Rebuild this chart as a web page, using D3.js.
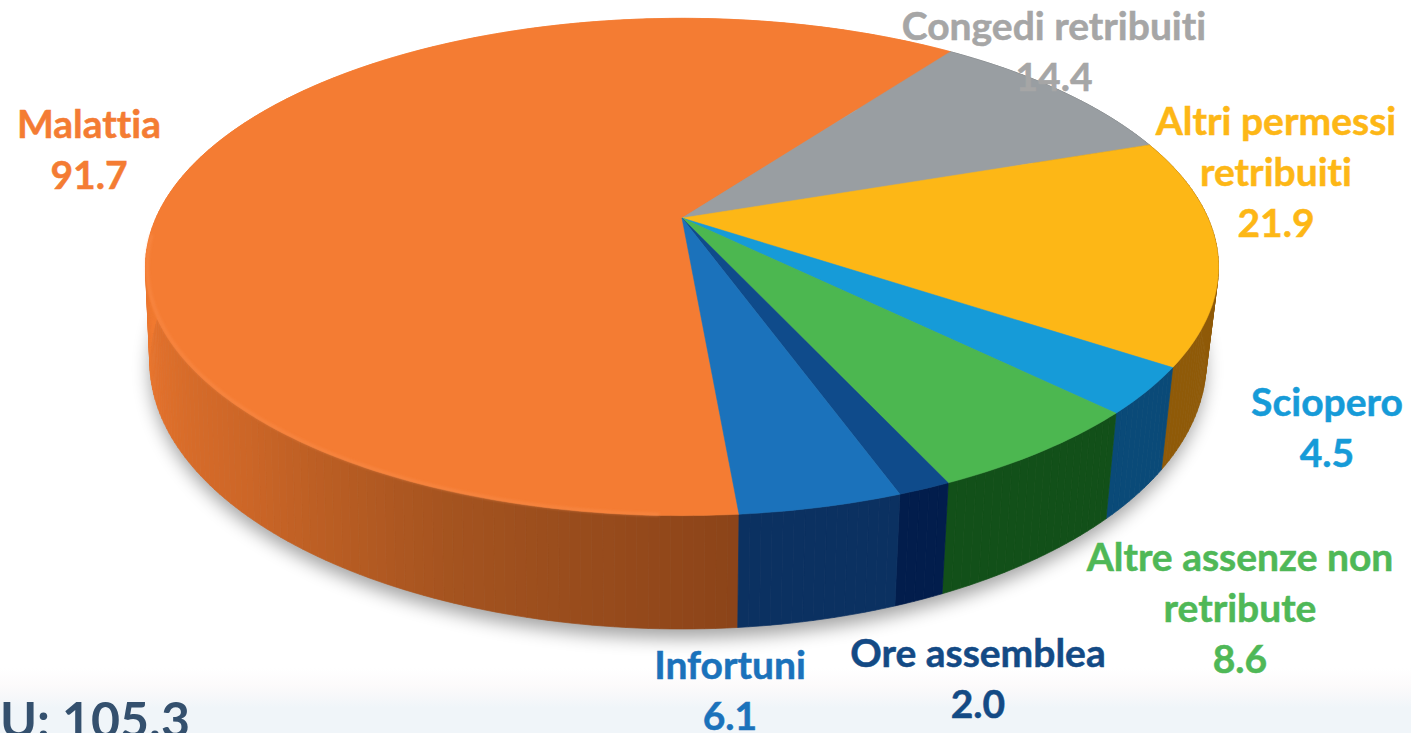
<!DOCTYPE html>
<html>

<head>
    <meta charset="utf-8">
    <style>
        html, body {
            margin: 0;
            padding: 0;
            background: #fff;
            overflow: hidden;
        }

        svg {
            display: block;
        }

        text {
            font-family: Lato, 'Open Sans', sans-serif;
            font-weight: 700;
            text-anchor: middle;
            font-variant-ligatures: none;
        }
    </style>
</head>

<body>
    <svg width="1411" height="733"></svg>
</body>

<script src="https://d3js.org/d3.v7.min.js"></script>

<script>
    // values, clockwise starting from the big slice
    const categories = ["Malattia", "Congedi retribuiti", "Altri permessi retribuiti", "Sciopero",
        "Altre assenze non retribute", "Ore assemblea", "Infortuni"];
    const values = [91.7, 14.4, 21.9, 4.5, 8.6, 2.0, 6.1];
    const totalLabel = "U: 105.3";

    const topColors = ["#f47c33", "#999ea2", "#fdb716", "#169bd8", "#4cb750", "#0f4b8b", "#1b72bb"];
    const sideColors = ["#8c4419", "#6b6e70", "#8f5a08", "#0a4a78", "#125019", "#021d4c", "#0b3161"];
    const labelColors = ["#f47c33", "#a6a6a6", "#fdb716", "#169bd8", "#4fb857", "#134a85", "#1b72bb"];

    // label lines and where they sit
    const labelLines = [
        ["Malattia"], ["Congedi retribuiti"], ["Altri permessi", "retribuiti"], ["Sciopero"],
        ["Altre assenze non", "retribute"], ["Ore assemblea"], ["Infortuni"]
    ];
    const labelX = [89, 1054, 1276, 1327, 1240, 978, 730];
    const labelY = [138, 40, 135, 416, 571, 667, 679];

    const width = 1411;
    const height = 733;
    const svg = d3.select("svg");

    // pie plane with a bit of perspective, the near edge is bigger
    const apexX = 682, apexY = 218, radX = 526, radY = 239, persp = 0.197, thick = 91, squeeze = 0.023;
    const degToRad = Math.PI / 180;

    function project(a, z, r = 1) {
        const u = r * Math.sin(a), v = -r * Math.cos(a);
        const w = 1 - persp * v;
        // the wall leans in less on the left than on the right
        const lean = u < 0 ? squeeze * 0.35 : squeeze;
        return [apexX + radX * u * (1 - lean * z) / w, apexY + (radY * v + thick * z) / w];
    }

    const pie = d3.pie().sort(null)
        .startAngle(175 * degToRad)
        .endAngle(535 * degToRad);
    const arcs = pie(values);

    const line = d3.line();

    const defs = svg.append("defs");
    defs.append("filter").attr("id", "soft")
        .attr("x", "-10%").attr("y", "-10%").attr("width", "120%").attr("height", "120%")
        .append("feGaussianBlur").attr("stdDeviation", 9);
    defs.append("filter").attr("id", "rim")
        .attr("x", "-5%").attr("y", "-5%").attr("width", "110%").attr("height", "110%")
        .append("feGaussianBlur").attr("stdDeviation", 1.5);
    const band = defs.append("linearGradient").attr("id", "band")
        .attr("x1", 0).attr("x2", 0).attr("y1", 0).attr("y2", 1);
    band.append("stop").attr("offset", "0%").attr("stop-color", "#ffffff");
    band.append("stop").attr("offset", "45%").attr("stop-color", "#fcfafb");
    band.append("stop").attr("offset", "100%").attr("stop-color", "#f0f5f9");

    svg.append("rect")
        .attr("x", 0).attr("y", 668).attr("width", width).attr("height", 40)
        .attr("fill", "url(#band)");
    svg.append("rect")
        .attr("x", 0).attr("y", 707).attr("width", width).attr("height", height - 707)
        .attr("fill", "#f0f5f9");

    // soft shadow under the disc
    const circleAngles = d3.range(0, 361, 2).map(d => d * degToRad);
    svg.append("path")
        .attr("d", line(circleAngles.map(a => project(a, 1.08))) + "Z")
        .attr("fill", "#000")
        .attr("opacity", 0.36)
        .attr("filter", "url(#soft)");

    // outer wall, thin strips so the shade can change round the rim
    const orangeShade = d3.scaleLinear()
        .domain([175, 200, 225, 250, 265, 300])
        .range(["#8c4419", "#a4531f", "#cc6627", "#e4722c", "#f07a30", "#f47c33"])
        .clamp(true);

    const strips = [];
    arcs.forEach((d, i) => {
        const n = Math.ceil((d.endAngle - d.startAngle) / degToRad);
        d3.range(n).forEach(k => {
            const a0 = d.startAngle + (d.endAngle - d.startAngle) * k / n;
            const a1 = d.startAngle + (d.endAngle - d.startAngle) * (k + 1) / n;
            strips.push({ a0, a1, i });
        });
    });

    svg.append("g")
        .attr("class", "wall")
        .selectAll("path")
        .data(strips)
        .join("path")
        .attr("d", d => line([project(d.a0, 0), project(d.a1, 0), project(d.a1, 1), project(d.a0, 1)]) + "Z")
        .attr("fill", d => d.i === 0 ? orangeShade(d.a0 / degToRad) : sideColors[d.i])
        .attr("stroke", d => d.i === 0 ? orangeShade(d.a0 / degToRad) : sideColors[d.i])
        .attr("stroke-width", 0.7);

    // top face
    function sliceOutline(d) {
        const n = Math.ceil((d.endAngle - d.startAngle) / degToRad);
        const rim = d3.range(n + 1).map(k =>
            project(d.startAngle + (d.endAngle - d.startAngle) * k / n, 0));
        return line([project(0, 0, 0), ...rim]) + "Z";
    }

    svg.append("g")
        .attr("class", "slices")
        .selectAll("path")
        .data(arcs)
        .join("path")
        .attr("d", sliceOutline)
        .attr("fill", (d, i) => topColors[i])
        .attr("stroke", (d, i) => topColors[i])
        .attr("stroke-width", 0.5);

    // lighter bevel on the rim of the orange slice
    const bevelAngles = d3.range(182, 268, 2).map(d => d * degToRad);
    svg.append("path")
        .attr("d", line(bevelAngles.map(a => project(a, 0, 0.997))))
        .attr("fill", "none")
        .attr("stroke", "#fb8f4e")
        .attr("stroke-width", 2.2)
        .attr("opacity", 0.7)
        .attr("filter", "url(#rim)");

    // labels, the value goes on the line after the name
    const lineGap = 51;
    arcs.forEach((d, i) => {
        const rows = [...labelLines[i], values[i].toFixed(1)];
        svg.append("text")
            .attr("x", labelX[i])
            .attr("y", labelY[i])
            .attr("font-size", 39)
            .attr("fill", labelColors[i])
            .attr("stroke", labelColors[i])
            .attr("stroke-width", 0.5)
            .selectAll("tspan")
            .data(rows)
            .join("tspan")
            .attr("x", labelX[i])
            .attr("y", (r, k) => labelY[i] + k * lineGap)
            .text(r => r);
    });

    svg.append("text")
        .attr("x", 190)
        .attr("y", 738)
        .attr("font-size", 50)
        .attr("fill", "#34506e")
        .style("text-anchor", "end")
        .text(totalLabel);
</script>

</html>
